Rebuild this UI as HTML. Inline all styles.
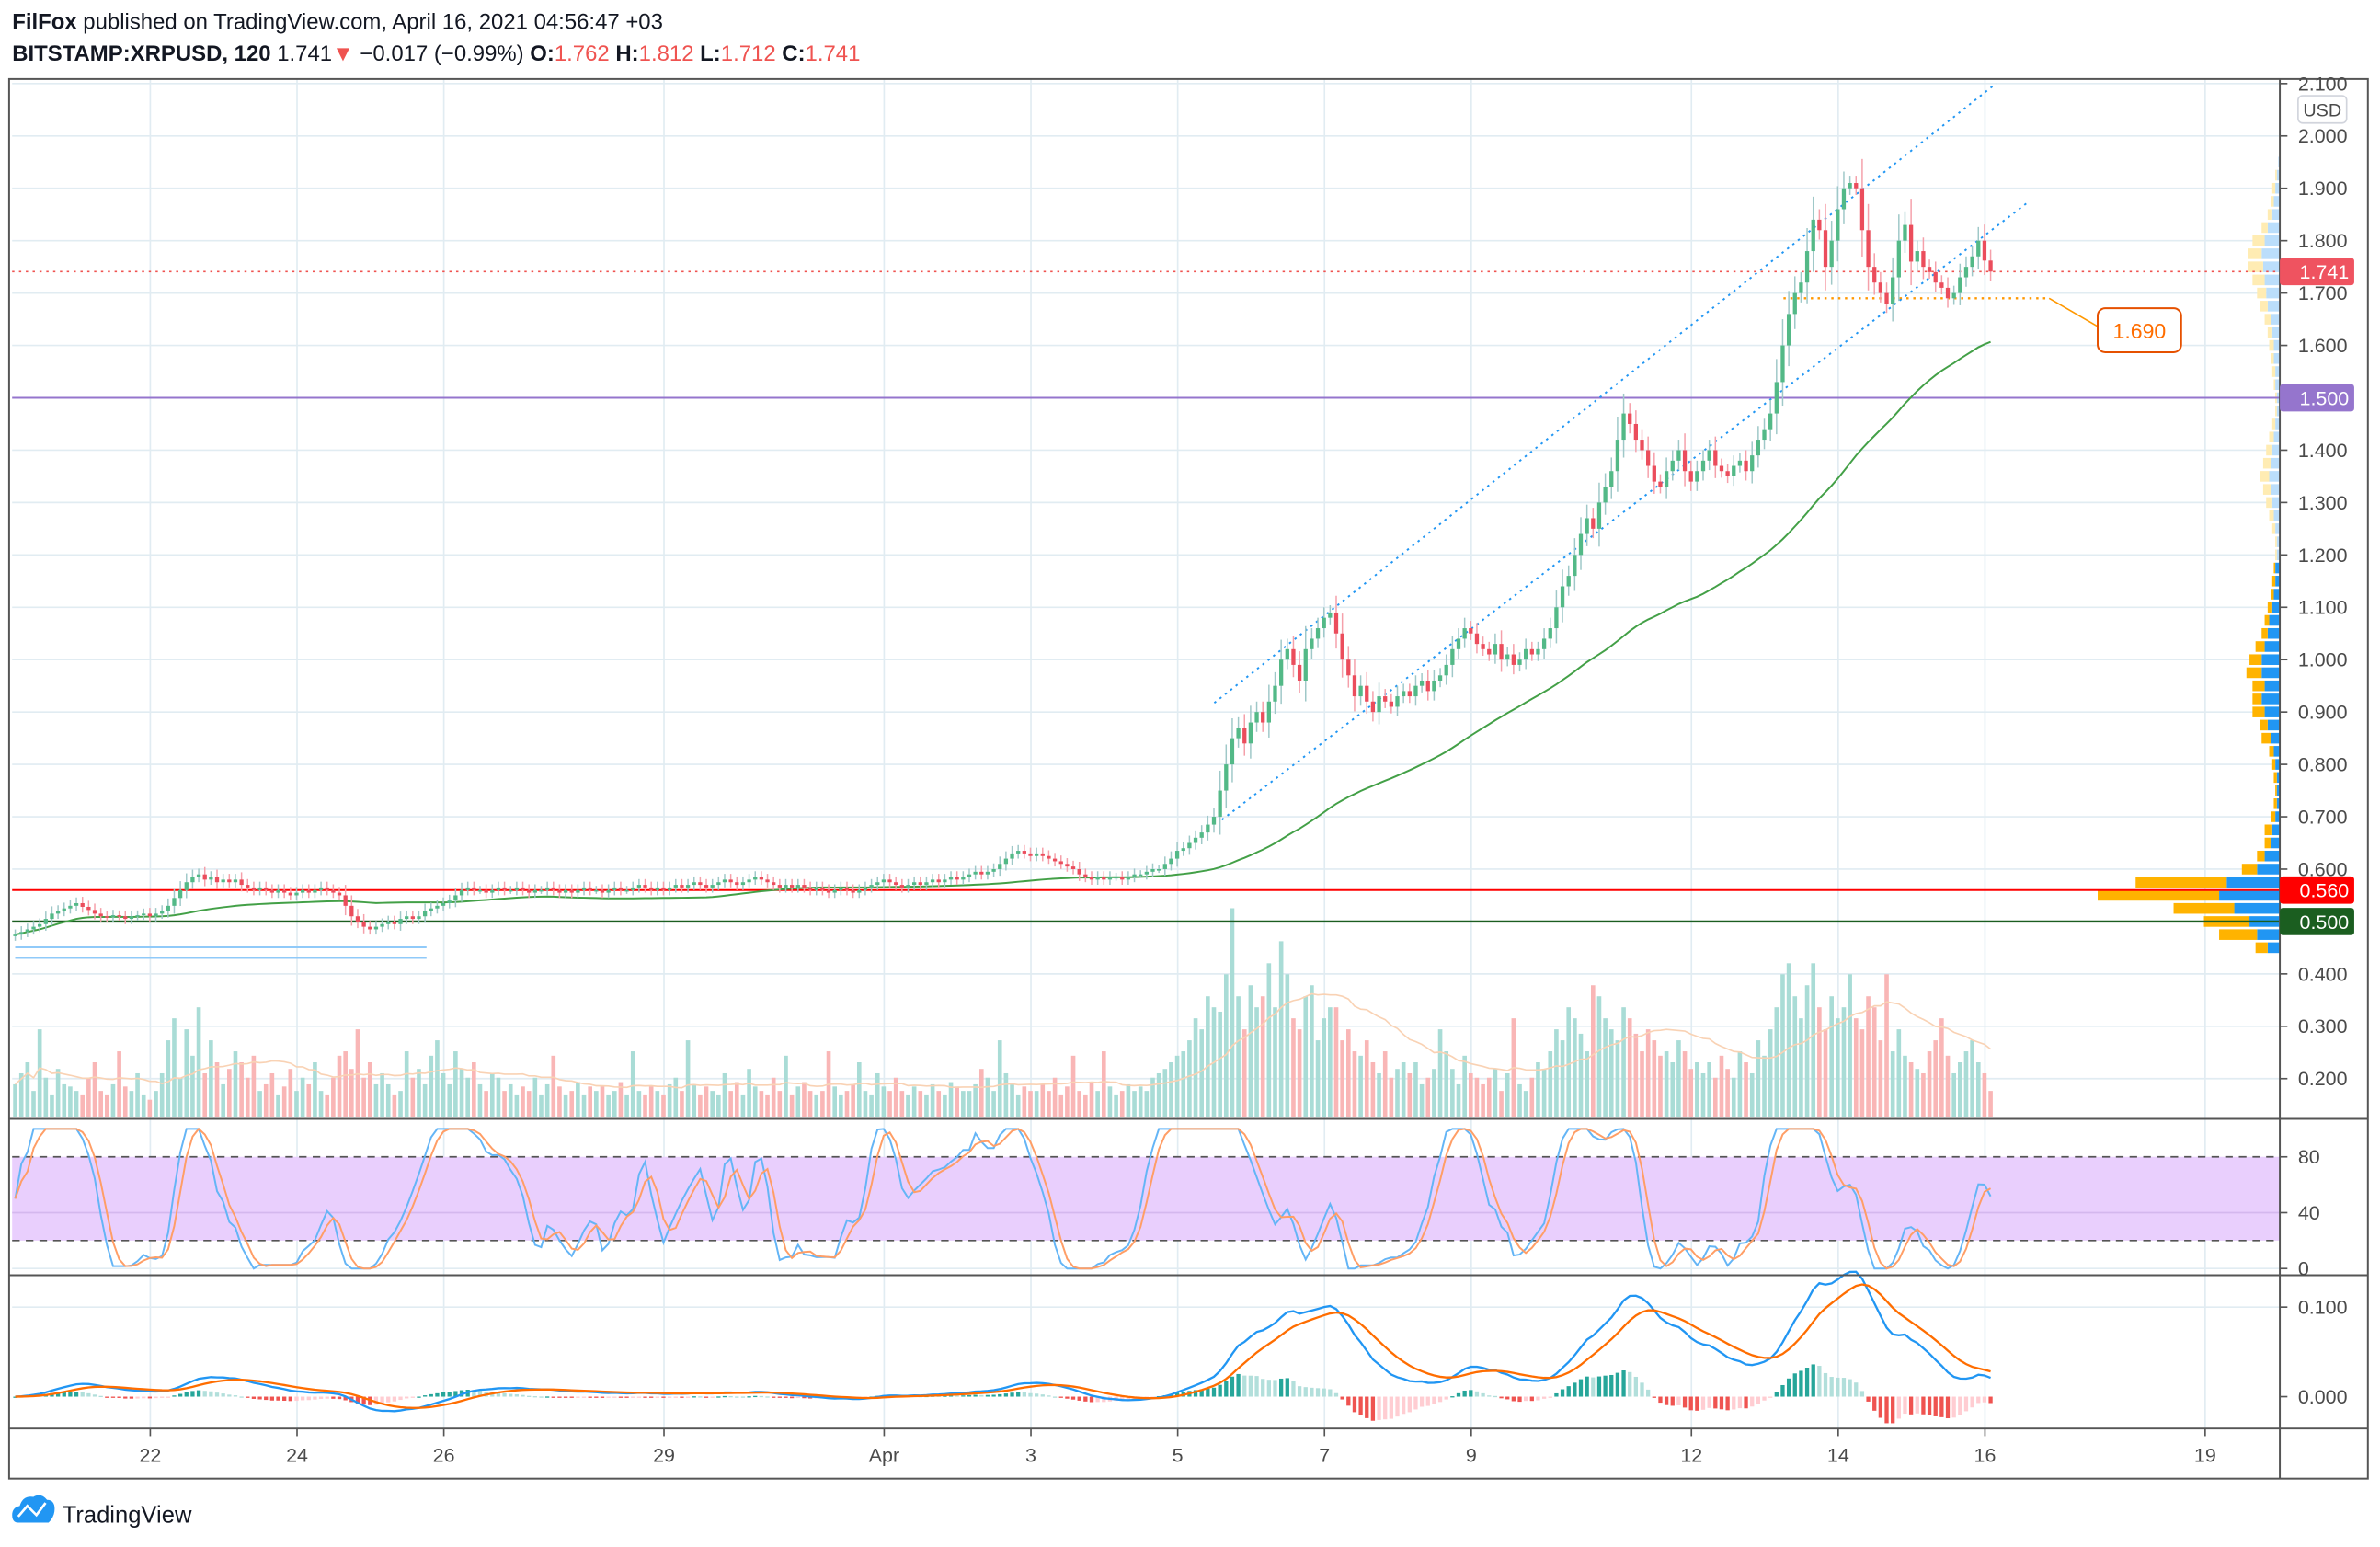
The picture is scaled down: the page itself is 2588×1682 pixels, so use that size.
<!DOCTYPE html>
<html><head><meta charset="utf-8"><style>
html,body{margin:0;padding:0;background:#fff;}
svg{display:block;font-family:"Liberation Sans",sans-serif;}
</style></head><body>
<svg id="chart" width="2588" height="1682" viewBox="0 0 1568 1019" xmlns="http://www.w3.org/2000/svg">
<rect x="0" y="0" width="1568" height="1019" fill="#fff"/>
<text x="8" y="19" font-size="14.5" fill="#131722"><tspan font-weight="bold">FilFox</tspan> published on TradingView.com, April 16, 2021 04:56:47 +03</text>
<text x="8" y="40" font-size="14.5" fill="#131722"><tspan font-weight="bold">BITSTAMP:XRPUSD, 120</tspan> 1.741<tspan fill="#ef5350">▼</tspan> −0.017 (−0.99%) <tspan font-weight="bold">O:</tspan><tspan fill="#ef5350">1.762</tspan> <tspan font-weight="bold">H:</tspan><tspan fill="#ef5350">1.812</tspan> <tspan font-weight="bold">L:</tspan><tspan fill="#ef5350">1.712</tspan> <tspan font-weight="bold">C:</tspan><tspan fill="#ef5350">1.741</tspan></text>
<g id="grid"></g>
<g id="profile"></g>
<g id="vol"></g>
<g id="levels"></g>
<g id="candles"></g>
<g id="rsi"></g>
<g id="macd"></g>
<g id="axes"></g>
<g>
<path d="M12 1003 q-4 0 -4 -5 q0 -5 5 -6 q2 -7 9 -6 q5 -3 9 2 q5 0 5 6 q0 5 -4 9 z" fill="#2196f3"/>
<polyline points="12,999 18,992 24,998 30,990" stroke="#fff" stroke-width="1.6" fill="none"/>
<text x="41" y="1003" font-size="15.5" fill="#131722">TradingView</text>
</g>
</svg>
<script>
const closes = [
0.475,0.48,0.485,0.49,0.495,0.505,0.515,0.52,0.525,0.53,0.535,0.528,
0.522,0.515,0.51,0.508,0.512,0.51,0.505,0.51,0.512,0.515,0.51,0.515,
0.52,0.53,0.545,0.56,0.575,0.585,0.59,0.58,0.585,0.575,0.58,0.575,
0.58,0.57,0.565,0.56,0.565,0.56,0.555,0.56,0.555,0.55,0.555,0.56,
0.555,0.56,0.565,0.56,0.555,0.55,0.53,0.51,0.5,0.49,0.485,0.49,
0.495,0.5,0.495,0.505,0.51,0.505,0.51,0.52,0.525,0.53,0.535,0.54,
0.55,0.56,0.565,0.56,0.56,0.555,0.56,0.565,0.56,0.56,0.565,0.56,
0.555,0.56,0.56,0.565,0.56,0.555,0.56,0.555,0.56,0.565,0.56,0.56,
0.555,0.56,0.565,0.56,0.56,0.565,0.57,0.565,0.56,0.565,0.56,0.565,
0.57,0.565,0.57,0.575,0.57,0.565,0.57,0.575,0.58,0.575,0.57,0.575,
0.58,0.585,0.58,0.575,0.57,0.565,0.57,0.565,0.57,0.565,0.56,0.565,
0.56,0.555,0.56,0.565,0.56,0.555,0.56,0.565,0.57,0.575,0.58,0.575,
0.57,0.565,0.57,0.575,0.57,0.575,0.58,0.575,0.58,0.585,0.58,0.585,
0.59,0.595,0.59,0.595,0.6,0.61,0.62,0.63,0.635,0.63,0.625,0.63,
0.625,0.62,0.615,0.61,0.605,0.6,0.59,0.585,0.58,0.585,0.58,0.585,
0.585,0.58,0.585,0.59,0.59,0.595,0.6,0.6,0.61,0.62,0.635,0.64,
0.65,0.66,0.67,0.685,0.7,0.75,0.8,0.85,0.87,0.84,0.88,0.9,
0.88,0.92,0.95,1.0,1.02,0.99,0.96,1.02,1.04,1.06,1.08,1.09,
1.05,1.0,0.97,0.93,0.95,0.92,0.9,0.93,0.92,0.91,0.93,0.94,
0.93,0.95,0.96,0.94,0.96,0.97,0.99,1.02,1.04,1.06,1.05,1.03,
1.02,1.01,1.03,1.0,1.01,0.99,1.0,1.02,1.01,1.02,1.04,1.06,
1.1,1.14,1.16,1.2,1.24,1.27,1.25,1.3,1.33,1.36,1.42,1.47,
1.45,1.42,1.4,1.37,1.34,1.33,1.36,1.38,1.4,1.36,1.34,1.36,
1.38,1.4,1.37,1.36,1.35,1.37,1.38,1.36,1.39,1.42,1.44,1.47,
1.53,1.6,1.66,1.7,1.72,1.78,1.84,1.82,1.75,1.8,1.86,1.9,
1.91,1.9,1.82,1.75,1.72,1.7,1.68,1.73,1.8,1.83,1.76,1.78,
1.75,1.74,1.72,1.71,1.69,1.7,1.73,1.75,1.77,1.8,1.762,1.741];
const volumes = [
15,20,25,12,40,18,10,22,15,14,12,10,
18,25,12,10,15,30,14,12,20,10,8,12,
20,35,45,18,40,28,50,20,35,25,15,22,
30,25,18,28,12,15,20,10,14,22,12,18,
15,25,12,10,18,28,30,22,40,18,25,15,
20,15,10,12,30,18,22,15,28,35,20,15,
30,22,18,25,15,12,20,18,12,15,10,14,
12,18,10,15,28,14,10,12,16,10,14,12,
14,10,12,16,10,30,12,10,14,12,10,15,
18,12,35,15,10,14,12,10,20,12,16,10,
22,14,12,10,18,12,28,10,14,16,12,10,
12,30,14,10,12,15,25,12,10,20,14,12,
18,12,10,14,12,10,15,12,10,16,14,12,
12,15,22,18,12,35,20,15,10,14,12,12,
15,12,18,10,14,28,12,10,16,12,30,14,
10,12,15,12,14,12,18,20,22,25,28,30,
35,45,40,55,50,48,65,95,55,40,60,50,
55,70,50,80,65,45,40,55,60,35,45,50,
50,35,40,30,28,35,25,20,30,18,22,25,
20,25,15,18,22,40,30,22,15,28,20,18,
15,18,22,12,20,45,15,12,18,25,22,30,
40,35,50,45,38,30,60,55,45,40,35,50,
45,38,30,40,35,28,30,25,35,30,22,25,
20,25,18,28,22,18,30,25,20,35,28,40,
50,65,70,55,45,60,70,50,40,55,45,50,
65,45,40,55,50,35,65,30,40,28,25,22,
20,30,35,45,28,20,25,30,35,25,20,12];
const profBlue = [8,15,20,30,40,35,15,10,6,5,3,2,2,2,3,4,6,8,10,12,10,12,12,10,8,7,5,4,3,3,2,2,3,4,5,6,7,6,5,4,3,2,2,3,3,4,4,5,6,8,9,10,11,12,10,8,5,4,3,2,1];
const profYellow = [8,25,30,40,80,60,10,5,4,5,3,2,1,2,2,3,6,5,8,6,8,10,8,6,4,3,3,2,2,1,1,1,2,3,4,5,6,5,4,3,2,1,1,1,2,2,3,3,4,5,6,8,10,9,8,4,3,2,2,1,0];
const priceTicks = [0.2,0.3,0.4,0.5,0.6,0.7,0.8,0.9,1.0,1.1,1.2,1.3,1.4,1.5,1.6,1.7,1.8,1.9,2.0,2.1];
const rsiTicks = [0,40,80];
const macdTicks = [0,0.1];
const dateLabels = ["22","24","26","29","Apr","3","5","7","9","12","14","16","19"];
const dateDays = [0,2,4,7,10,12,14,16,18,21,23,25,28];

const NS="http://www.w3.org/2000/svg";
function mk(parent, tag, attrs){const e=document.createElementNS(NS,tag);for(const k in attrs)e.setAttribute(k,attrs[k]);parent.appendChild(e);return e;}
const L=8, R=1502, TOP=52, MAINB=737, RSIB=840, MACDB=941, TAXB=974;
const yP = p => 607 - (p-0.5)*345;
const yR = v => 835.6 - v*0.92;
const yM = m => 920 - m*590;
const xDay = d => 99 + d*48.35;
const xBar = i => xDay(-1.84 + i/12);
const N = closes.length;

const grid=document.getElementById('grid');
dateDays.forEach((d,k)=>{
  const g=mk(grid,'line',{x1:xDay(d),x2:xDay(d),y1:TOP,y2:MACDB,stroke:'#e1ecf2','stroke-width':1});
  
  
});
priceTicks.forEach(p=>{
  const g=mk(grid,'line',{x1:L,x2:R,y1:yP(p),y2:yP(p),stroke:'#e1ecf2','stroke-width':1});
  
  
});
const rsiG=document.getElementById('rsi');
const band=mk(rsiG,'rect',{x:L,y:yR(80),width:R-L,height:yR(20)-yR(80),fill:'#e9cffd'});


mk(rsiG,'line',{x1:L,x2:R,y1:yR(40),y2:yR(40),stroke:'#d4b8ee','stroke-width':1});
mk(rsiG,'line',{x1:L,x2:R,y1:yR(0),y2:yR(0),stroke:'#e1ecf2','stroke-width':1});
[80,20].forEach(v=>{
  const l=mk(rsiG,'line',{x1:L,x2:R,y1:yR(v),y2:yR(v),stroke:'#555','stroke-width':1,'stroke-dasharray':'5,4'});
  
  
});
mk(document.getElementById('macd'),'line',{x1:L,x2:R,y1:yM(0.1),y2:yM(0.1),stroke:'#e1ecf2','stroke-width':1});

const prof=document.getElementById('profile');
profBlue.forEach((b,k)=>{
  const p=0.45+0.025*k, y=yP(p)-3.5;
  const rb=mk(prof,'rect',{x:R-b,y:y,width:b,height:7,fill: p<1.2?'#2196f3':'#bbdefb'});
  
  
  const ry=mk(prof,'rect',{x:R-b-profYellow[k],y:y,width:profYellow[k],height:7,fill: p<1.2?'#ffb300':'#ffecb3'});
  
  
});

const volG=document.getElementById('vol');
const VB=736, VS=1.45;
for(let i=0;i<N;i++){
  const o=i>0?closes[i-1]:closes[0]-0.003, up=closes[i]>=o;
  const h=volumes[i]*VS;
  const r=mk(volG,'rect',{x:xBar(i)-1.4,y:VB-h,width:2.8,height:h,fill: up?'#a9dcd6':'#f9b6b6'});
  
  
}
let vpts=[];
for(let i=0;i<N;i++){const s=Math.max(0,i-19);let a=0;for(let j=s;j<=i;j++)a+=volumes[j];vpts.push(xBar(i)+','+(VB-a/(i-s+1)*VS));}
const vma=mk(volG,'polyline',{points:vpts.join(' '),fill:'none',stroke:'#f9d2b4','stroke-width':1});



const lv=document.getElementById('levels');
function hline(p,color,name,w,dash,x1,x2){const l=mk(lv,'line',{x1:x1||L,x2:x2||R,y1:yP(p),y2:yP(p),stroke:color,'stroke-width':w||1});if(dash)l.setAttribute('stroke-dasharray',dash);return l;}
hline(1.5,'#9575cd','resistance-line-1500',1.2);
hline(0.56,'#ff0000','support-line-0560',1.2);
hline(0.5,'#1b5e20','support-line-0500',1.4);
hline(1.741,'#ef5350','last-price-line',1,'1.5,3');
hline(1.69,'#ff9800','target-line-1690',1.4,'1.5,3',1175,1350);
const bl1=mk(lv,'line',{x1:10,x2:281,y1:624,y2:624,stroke:'#90caf9','stroke-width':1.2});


const bl2=mk(lv,'line',{x1:10,x2:281,y1:631,y2:631,stroke:'#90caf9','stroke-width':1.2});


const ch1=mk(lv,'line',{x1:800,y1:463,x2:1315,y2:55,stroke:'#2196f3','stroke-width':1.2,'stroke-dasharray':'1.5,3'});


const ch2=mk(lv,'line',{x1:805,y1:540,x2:1335,y2:134,stroke:'#2196f3','stroke-width':1.2,'stroke-dasharray':'1.5,3'});


const arr=mk(lv,'line',{x1:1350,y1:yP(1.69),x2:1382,y2:215,stroke:'#ff9800','stroke-width':1});


const cb=mk(lv,'rect',{x:1382,y:203,width:55,height:29,rx:5,fill:'#fff',stroke:'#e65100','stroke-width':1.2});


const ct=mk(lv,'text',{x:1409.5,y:223,'font-size':14,fill:'#ff6d00','text-anchor':'middle'});
ct.textContent='1.690';



const MAP=60;
let mpts=[];
for(let i=0;i<N;i++){const s=Math.max(0,i-MAP+1);let a=0;for(let j=s;j<=i;j++)a+=closes[j];mpts.push(xBar(i)+','+yP(a/(i-s+1)));}
const ma=mk(lv,'polyline',{points:mpts.join(' '),fill:'none',stroke:'#43a047','stroke-width':1.2});



const cG=document.getElementById('candles');
for(let i=0;i<N;i++){
  const o=i>0?closes[i-1]:closes[0]-0.003, c=closes[i], up=c>=o;
  const body=Math.abs(c-o), pad=0.008+body*0.6;
  const hi=Math.max(o,c)+pad, lo=Math.min(o,c)-pad*0.9, x=xBar(i);
  const w=mk(cG,'line',{x1:x,x2:x,y1:yP(hi),y2:yP(lo),stroke: up?'#9fc8c8':'#f5a0aa','stroke-width':0.9});
  
  
  const bt=yP(Math.max(o,c)), bh=Math.max(1,yP(Math.min(o,c))-bt);
  const b=mk(cG,'rect',{x:x-1.3,y:bt,width:2.6,height:bh,fill: up?'#53b987':'#eb4d5c'});
  
  
}

let rsi=[],ag=0,al=0;
for(let i=0;i<N;i++){
  if(i===0){rsi.push(50);continue;}
  const d=closes[i]-closes[i-1], g=Math.max(d,0), l=Math.max(-d,0);
  if(i<=14){ag+=g/14;al+=l/14;}else{ag=(ag*13+g)/14;al=(al*13+l)/14;}
  rsi.push(al===0?100:100-100/(1+ag/al));
}
let st=[];
for(let i=0;i<N;i++){const s=Math.max(0,i-13);let mn=1e9,mx=-1e9;for(let j=s;j<=i;j++){mn=Math.min(mn,rsi[j]);mx=Math.max(mx,rsi[j]);}st.push(mx-mn<1e-9?50:(rsi[i]-mn)/(mx-mn)*100);}
const sma3=a=>a.map((v,i)=>{const s=Math.max(0,i-2);let t=0;for(let j=s;j<=i;j++)t+=a[j];return t/(i-s+1);});
const K=sma3(st), D=sma3(K);
const kl=mk(rsiG,'polyline',{points:K.map((v,i)=>xBar(i)+','+yR(v)).join(' '),fill:'none',stroke:'#64b5f6','stroke-width':1.2});


const dl=mk(rsiG,'polyline',{points:D.map((v,i)=>xBar(i)+','+yR(v)).join(' '),fill:'none',stroke:'#ff9e66','stroke-width':1.2});



const macdG=document.getElementById('macd');
let e12=closes[0],e26=closes[0],sig=0,macd=[],sg=[];
for(let i=0;i<N;i++){e12+= (closes[i]-e12)*2/13; e26+=(closes[i]-e26)*2/27; const m=e12-e26; sig+=(m-sig)*2/10; macd.push(m); sg.push(sig);}
for(let i=0;i<N;i++){
  const h=macd[i]-sg[i], prev=i>0?macd[i-1]-sg[i-1]:0;
  const col = h>=0 ? (h>=prev?'#26a69a':'#b2dfdb') : (h<prev?'#ef5350':'#ffcdd2');
  const y1=yM(Math.max(h,0)), y2=yM(Math.min(h,0));
  const r=mk(macdG,'rect',{x:xBar(i)-1.3,y:y1,width:2.6,height:Math.max(0.8,y2-y1),fill:col});
  
  
}
const ml=mk(macdG,'polyline',{points:macd.map((v,i)=>xBar(i)+','+yM(v)).join(' '),fill:'none',stroke:'#2196f3','stroke-width':1.4});


const sl=mk(macdG,'polyline',{points:sg.map((v,i)=>xBar(i)+','+yM(v)).join(' '),fill:'none',stroke:'#ff6d00','stroke-width':1.4});



const ax=document.getElementById('axes');
const fr=mk(ax,'rect',{x:6,y:TOP,width:1554,height:TAXB-TOP,fill:'none',stroke:'#555','stroke-width':1.2});


[MAINB,RSIB,MACDB].forEach(y=>{const l=mk(ax,'line',{x1:6,x2:1560,y1:y,y2:y,stroke:'#555','stroke-width':1.2});});
const va=mk(ax,'line',{x1:R,x2:R,y1:TOP,y2:TAXB,stroke:'#555','stroke-width':1.2});


priceTicks.forEach(p=>{
  mk(ax,'line',{x1:R,x2:R+5,y1:yP(p),y2:yP(p),stroke:'#555','stroke-width':1});
  const t=mk(ax,'text',{x:1514,y:yP(p)+4.5,'font-size':13,fill:'#4a4a4a'});
  t.textContent=p.toFixed(3);
  
  
});
rsiTicks.forEach(v=>{
  mk(ax,'line',{x1:R,x2:R+5,y1:yR(v),y2:yR(v),stroke:'#555','stroke-width':1});
  const t=mk(ax,'text',{x:1514,y:yR(v)+4.5,'font-size':13,fill:'#4a4a4a'});
  t.textContent=String(v);
  
  
});
macdTicks.forEach(v=>{
  mk(ax,'line',{x1:R,x2:R+5,y1:yM(v),y2:yM(v),stroke:'#555','stroke-width':1});
  const t=mk(ax,'text',{x:1514,y:yM(v)+4.5,'font-size':13,fill:'#4a4a4a'});
  t.textContent=v.toFixed(3);
  
  
});
dateDays.forEach((d,k)=>{
  mk(ax,'line',{x1:xDay(d),x2:xDay(d),y1:MACDB,y2:MACDB+5,stroke:'#555','stroke-width':1});
  const t=mk(ax,'text',{x:xDay(d),y:963,'font-size':13,fill:'#4a4a4a','text-anchor':'middle'});
  t.textContent=dateLabels[k];
  
  
});
const ub=mk(ax,'rect',{x:1514,y:63,width:32,height:18,rx:3,fill:'#fff',stroke:'#d1d4dc','stroke-width':1});


const ut=mk(ax,'text',{x:1530,y:76.5,'font-size':12,fill:'#4a4a4a','text-anchor':'middle'});
ut.textContent='USD';


function tag(p,bg,name){
  const r=mk(ax,'rect',{x:R,y:yP(p)-9,width:49,height:18,rx:2,fill:bg});
  
  
  const t=mk(ax,'text',{x:1515,y:yP(p)+4.8,'font-size':13,fill:'#fff'});
  t.textContent=p.toFixed(3);
  
  
}
tag(1.741,'#ef5360','last-price');
tag(1.5,'#9575cd','level-1500');
tag(0.56,'#ff0000','level-0560');
tag(0.5,'#1b5e20','level-0500');
</script>
</body></html>
